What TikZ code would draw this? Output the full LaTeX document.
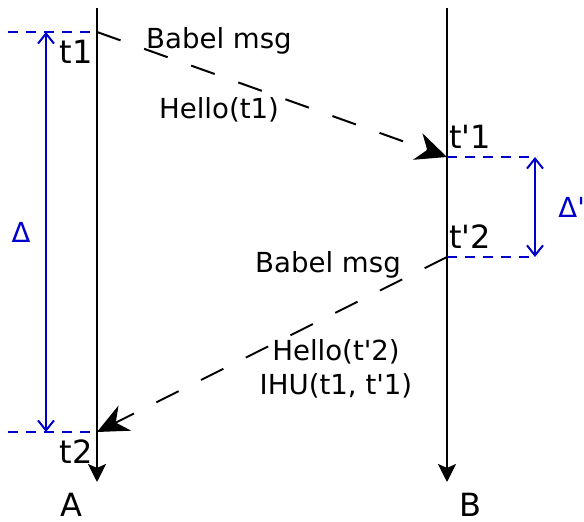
\documentclass[tikz,border=0pt]{standalone}
\usepackage{fontspec}
\setmainfont{DejaVu Sans}
\usetikzlibrary{positioning,arrows.meta}
\definecolor{guideblue}{RGB}{0,0,204}
\newcommand{\pr}{\textquotesingle}

\begin{document}
\begin{tikzpicture}[x=0.5pt, y=-0.5pt]
  \tikzset{
    timeline/.style={draw=black,line width=1pt,-{Stealth[length=9pt,width=9pt,inset=2pt]}},
    msg/.style={draw=black,line width=1pt,dash pattern=on 12.5pt off 12.5pt,
                -{Stealth[length=15.5pt,width=14pt,inset=5pt]}},
    guide/.style={draw=guideblue,line width=0.9pt,dash pattern=on 5pt off 4pt},
    span/.style={draw=guideblue,line width=1pt,
                 {Straight Barb[length=5pt,width=8pt]}-{Straight Barb[length=5pt,width=8pt]}},
    lbl/.style={font=\fontsize{16}{19}\selectfont,inner sep=1pt},
    txt/.style={font=\fontsize{13.8}{16}\selectfont,inner sep=1pt}
  }
  \useasboundingbox (0,0) rectangle (584,522);
  % Timelines
  \coordinate (Atop) at (97,8);   \coordinate (Abot) at (97,482);
  \coordinate (Btop) at (447,8);  \coordinate (Bbot) at (447,482);
  \draw[timeline] (Atop) -- (Abot);
  \draw[timeline] (Btop) -- (Bbot);
  \node[lbl] (A) at (71,505) {A};
  \node[lbl] (B) at (470,505) {B};
  % Events on the timelines
  \coordinate (t1) at (97,32);    \coordinate (t2) at (97,432);
  \coordinate (tp1) at (447,157); \coordinate (tp2) at (447,257);
  \node[lbl] (t1lab) at (76,52) {t1};
  \node[lbl] (t2lab) at (76,452) {t2};
  \node[lbl] (tp1lab) at (470,137) {t\pr1};
  \node[lbl] (tp2lab) at (470,237) {t\pr2};
  % Messages
  \draw[msg] (t1) -- (tp1);
  \draw[msg] (tp2) -- (t2);
  \node[txt] (m1a) at (219,41) {Babel msg};
  \node[txt] (m1b) at (219,110) {Hello(t1)};
  \node[txt] (m2a) at (328,265) {Babel msg};
  \node[txt] (m2b) at (336,352) {Hello(t\pr2)};
  \node[txt] (m2c) at (336,386) {IHU(t1, t\pr1)};
  % Delta on A
  \coordinate (t1L) at (8,32);    \coordinate (t2L) at (8,432);
  \draw[guide] (t1L) -- (t1);
  \draw[guide] (t2L) -- (t2);
  \coordinate (d1) at (46,32);    \coordinate (d2) at (46,432);
  \draw[span] (d1) -- (d2);
  \node[txt,text=guideblue] (delta) at (21,232) {Δ};
  % Delta' on B
  \coordinate (tp1R) at (537,157); \coordinate (tp2R) at (537,257);
  \draw[guide] (tp1) -- (tp1R);
  \draw[guide] (tp2) -- (tp2R);
  \coordinate (dp1) at (535,157); \coordinate (dp2) at (535,257);
  \draw[span] (dp1) -- (dp2);
  \node[txt,text=guideblue,anchor=west] (deltap) at (556,207) {Δ\pr};
\end{tikzpicture}
\end{document}
